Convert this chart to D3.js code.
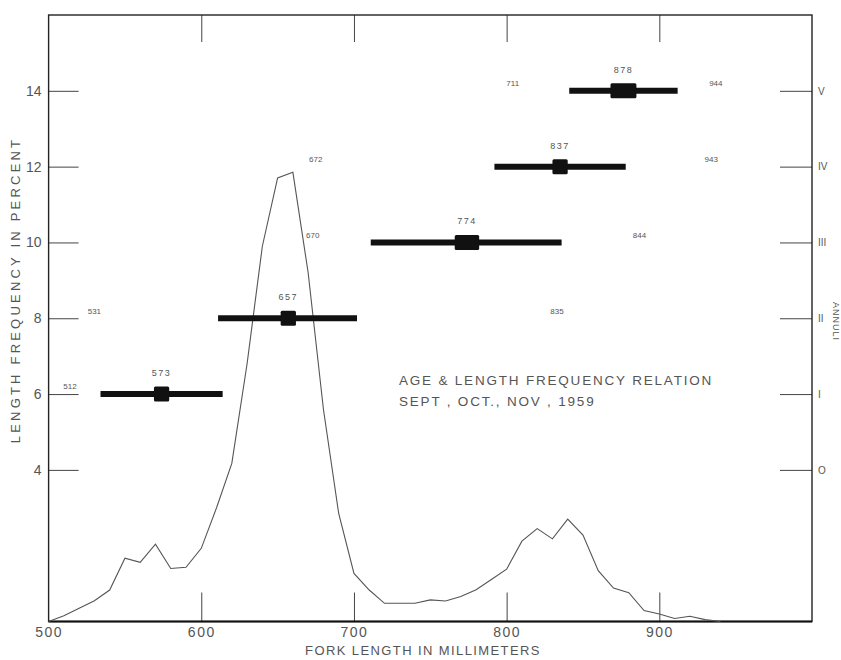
<!DOCTYPE html>
<html>
<head>
<meta charset="utf-8">
<script src="https://cdn.jsdelivr.net/npm/d3@7"></script>
<style>
  body { margin: 0; background: #fff; }
  svg text { font-family: "Liberation Sans", "DejaVu Sans", sans-serif; fill: #555; }
</style>
</head>
<body>
<div id="chart"></div>
<script>
// length frequency curve (percent), every 10 mm
const lengths = [500, 510, 520, 530, 540, 550, 560, 570, 580, 590, 600, 610, 620, 630, 640, 650, 660, 670, 680, 690,
  700, 710, 720, 730, 740, 750, 760, 770, 780, 790, 800, 810, 820, 830, 840, 850, 860, 870, 880, 890,
  900, 910, 920, 930, 940];
const freq = [0, 0.15, 0.35, 0.55, 0.83, 1.67, 1.56, 2.04, 1.4, 1.43, 1.93, 3.0, 4.17, 6.8, 9.9, 11.7, 11.85, 9.2, 5.6, 2.85,
  1.27, 0.83, 0.48, 0.48, 0.48, 0.57, 0.54, 0.66, 0.84, 1.11, 1.38, 2.12, 2.45, 2.18, 2.7, 2.28, 1.34, 0.88, 0.76, 0.29,
  0.2, 0.08, 0.14, 0.05, 0];

// age groups: level on the chart, range bar, mean box, mean label
const ages = ["I", "II", "III", "IV", "V"];
const ageLevel = [6, 8, 10, 12, 14];
const barLo = [534, 611, 711, 792, 841];
const barHi = [614, 702, 836, 878, 912];
const boxLo = [569, 652, 766, 830, 868];
const boxHi = [579, 662, 782, 840, 885];
const meanLabel = ["573", "657", "774", "837", "878"];

// faint extreme-length notes
const noteText = ["512", "531", "670", "672", "711", "835", "844", "943", "944"];
const noteLen = [514, 530, 673, 675, 804, 833, 887, 934, 937];
const noteLevel = [6.2, 8.2, 10.2, 12.2, 14.2, 8.2, 10.2, 12.2, 14.2];

const xTicks = [500, 600, 700, 800, 900];
const yTicks = [4, 6, 8, 10, 12, 14];
const annuli = ["O", "I", "II", "III", "IV", "V"];

const width = 841, height = 660;
const mLeft = 48.6, mRight = 812, mTop = 15, mBottom = 621.5;

const svg = d3.select("#chart").append("svg")
  .attr("width", width)
  .attr("height", height);

const x = d3.scaleLinear().domain([500, 1000]).range([mLeft, mRight]);
const y = d3.scaleLinear().domain([0, 16]).range([mBottom, mTop]);

// ticks and labels
const gx = svg.append("g")
  .attr("transform", `translate(0,${mBottom})`)
  .call(d3.axisBottom(x).tickValues(xTicks).tickSize(-29).tickPadding(6).tickFormat(d3.format("d")));
gx.select(".domain").remove();
gx.selectAll("text").attr("font-size", 14).attr("letter-spacing", 1.5).attr("fill", "#666");
gx.selectAll(".tick").filter(d => d === 500).select("line").remove();

const gt = svg.append("g")
  .attr("transform", `translate(0,${mTop})`)
  .call(d3.axisTop(x).tickValues(xTicks.slice(1)).tickSize(-27).tickFormat(""));
gt.select(".domain").remove();

const gy = svg.append("g")
  .attr("transform", `translate(${mLeft},0)`)
  .call(d3.axisLeft(y).tickValues(yTicks).tickSize(-30).tickPadding(7));
gy.select(".domain").remove();
gy.selectAll("text").attr("font-size", 14).attr("fill", "#666");

const gr = svg.append("g")
  .attr("transform", `translate(${mRight},0)`)
  .call(d3.axisRight(y).tickValues(yTicks).tickSize(-32).tickPadding(6).tickFormat((d, i) => annuli[i]));
gr.select(".domain").remove();
gr.selectAll("text").attr("font-size", 10).attr("fill", "#777");

svg.selectAll(".tick line").attr("stroke", "#444").attr("stroke-width", 1);

// frame
svg.append("rect")
  .attr("x", mLeft).attr("y", mTop)
  .attr("width", mRight - mLeft).attr("height", mBottom - mTop)
  .attr("fill", "none").attr("stroke", "#222").attr("stroke-width", 1.4);
svg.append("line")
  .attr("x1", mLeft).attr("x2", mRight)
  .attr("y1", mBottom).attr("y2", mBottom)
  .attr("stroke", "#111").attr("stroke-width", 2.2);

// frequency curve
const curve = lengths.map((d, i) => [d, freq[i]]);
svg.append("path")
  .datum(curve)
  .attr("fill", "none")
  .attr("stroke", "#555")
  .attr("stroke-width", 1.1)
  .attr("d", d3.line().x(d => x(d[0])).y(d => y(d[1])));

// age bars
const bars = svg.append("g");
ages.forEach((a, i) => {
  bars.append("line")
    .attr("x1", x(barLo[i])).attr("x2", x(barHi[i]))
    .attr("y1", y(ageLevel[i])).attr("y2", y(ageLevel[i]))
    .attr("stroke", "#111").attr("stroke-width", 6);
  bars.append("rect")
    .attr("x", x(boxLo[i])).attr("width", x(boxHi[i]) - x(boxLo[i]))
    .attr("y", y(ageLevel[i]) - 7.5).attr("height", 15)
    .attr("rx", 1.5)
    .attr("fill", "#111");
  bars.append("text")
    .attr("x", x((boxLo[i] + boxHi[i]) / 2))
    .attr("y", y(ageLevel[i]) - 18)
    .attr("text-anchor", "middle")
    .attr("font-size", 9)
    .attr("letter-spacing", 1.5)
    .attr("fill", "#888")
    .text(meanLabel[i]);
});

// faint notes
svg.selectAll(".note")
  .data(noteText)
  .enter()
  .append("text")
  .attr("class", "note")
  .attr("x", (d, i) => x(noteLen[i]))
  .attr("y", (d, i) => y(noteLevel[i]) + 3)
  .attr("text-anchor", "middle")
  .attr("font-size", 8)
  .attr("fill", "#aaa")
  .text(d => d);

// axis titles
svg.append("text")
  .attr("transform", "translate(20,290) rotate(-90)")
  .attr("text-anchor", "middle")
  .attr("font-size", 13)
  .attr("letter-spacing", 3.2)
  .text("LENGTH FREQUENCY IN PERCENT");

svg.append("text")
  .attr("x", 423).attr("y", 655)
  .attr("text-anchor", "middle")
  .attr("font-size", 13)
  .attr("letter-spacing", 1.4)
  .text("FORK LENGTH IN MILLIMETERS");

svg.append("text")
  .attr("transform", "translate(833,302) rotate(90)")
  .attr("font-size", 9)
  .attr("letter-spacing", 1)
  .attr("fill", "#888")
  .text("ANNULI");

// title block
svg.append("text")
  .attr("x", 399).attr("y", 385)
  .attr("font-size", 13.5)
  .attr("letter-spacing", 1.8)
  .text("AGE & LENGTH FREQUENCY RELATION");
svg.append("text")
  .attr("x", 399).attr("y", 406)
  .attr("font-size", 13.5)
  .attr("letter-spacing", 1.8)
  .text("SEPT , OCT., NOV , 1959");
</script>
</body>
</html>
